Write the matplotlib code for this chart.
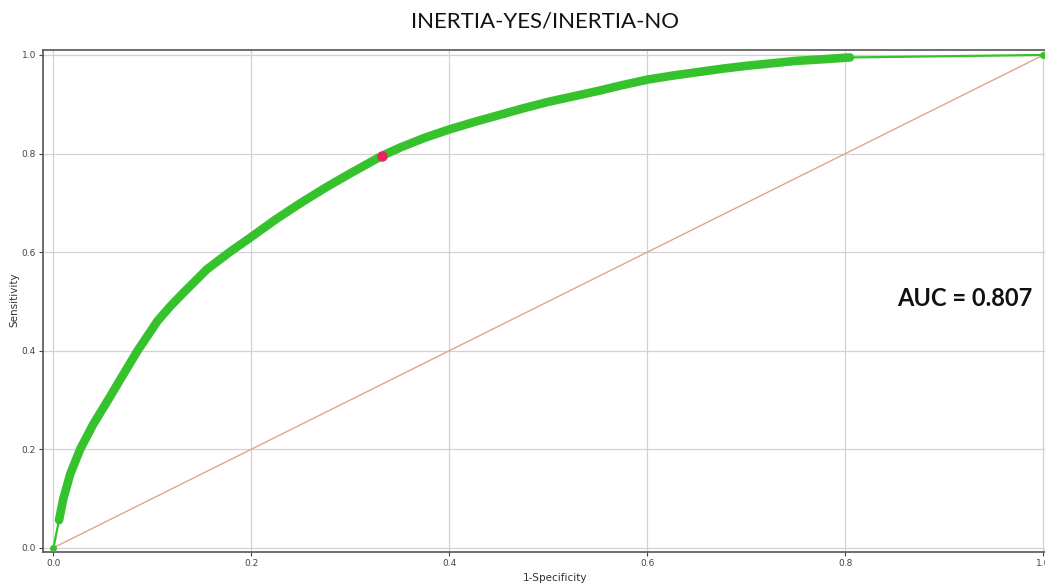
import matplotlib
matplotlib.use("Agg")
import matplotlib.pyplot as plt

# ROC curve points (1-specificity, sensitivity)
fpr = [0.0, 0.0056, 0.010, 0.017, 0.027, 0.040, 0.057, 0.067, 0.085, 0.105,
       0.118, 0.131, 0.155, 0.178, 0.200, 0.225, 0.250, 0.275, 0.300, 0.3315,
       0.350, 0.375, 0.400, 0.425, 0.450, 0.475, 0.500, 0.525, 0.550, 0.575,
       0.600, 0.625, 0.650, 0.675, 0.700, 0.725, 0.750, 0.775, 0.8045, 1.0]
tpr = [0.0, 0.056, 0.100, 0.150, 0.200, 0.250, 0.306, 0.340, 0.400, 0.460,
       0.490, 0.517, 0.565, 0.600, 0.631, 0.667, 0.700, 0.731, 0.760, 0.795,
       0.812, 0.832, 0.849, 0.864, 0.878, 0.892, 0.905, 0.916, 0.927, 0.939,
       0.950, 0.958, 0.965, 0.972, 0.978, 0.983, 0.988, 0.991, 0.995, 1.0]
thick_start, thick_end = 1, 38  # index range drawn as the dense thick band
cut_fpr, cut_tpr = [0.3315], [0.795]
diag = [0.0, 1.0]
ticks = [0.0, 0.2, 0.4, 0.6, 0.8, 1.0]
title = "INERTIA-YES/INERTIA-NO"
auc_text = "AUC = 0.807"

W, H = 1045, 585
fig = plt.figure(figsize=(W / 100, H / 100), dpi=100)
ax = fig.add_axes([43 / W, (H - 551.7) / H, 1010.4 / W, 501.7 / H])
ax.set_xlim(-0.0106, 1.0100)
ax.set_ylim(-0.0081, 1.0101)

ax.grid(True, color="#d2d2d2", linewidth=0.9)
ax.set_axisbelow(True)

green = "#35c22d"
ax.plot(diag, diag, color="#e0a58a", linewidth=1.0, zorder=2)
ax.plot(fpr, tpr, color=green, linewidth=1.6, zorder=3)
ax.plot(fpr[thick_start:thick_end + 1], tpr[thick_start:thick_end + 1],
        color=green, linewidth=6.2, solid_capstyle="round",
        solid_joinstyle="round", zorder=4)
ax.plot([fpr[0]], [tpr[0]], "o", color=green, markersize=4, zorder=4)
ax.plot([fpr[-1]], [tpr[-1]], "o", color=green, markersize=4, zorder=4)
ax.plot(cut_fpr, cut_tpr, "o", color="#e8245c", markersize=6.5, zorder=5)

ax.set_xticks(ticks)
ax.set_yticks(ticks)
ax.set_xticklabels([f"{t:.1f}" for t in ticks])
ax.set_yticklabels([f"{t:.1f}" for t in ticks])
ax.tick_params(labelsize=6.5, labelcolor="#444444", color="#444444",
               length=3, width=0.8, pad=2)
for s in ax.spines.values():
    s.set_color("#555555")
    s.set_linewidth(1.2)

fig.text(14 / W, 1 - 300 / H, "Sensitivity", rotation=90, ha="center",
         va="center", fontsize=7.5, color="#333333")
fig.text(555 / W, 1 - 578 / H, "1-Specificity", ha="center", va="center",
         fontsize=7.5, color="#333333")
fig.text(545 / W, 1 - 22 / H, title, ha="center", va="center",
         fontsize=16, family="Lato", color="#111111")
fig.text(965 / W, 1 - 298 / H, auc_text, ha="center", va="center",
         fontsize=17, family="Lato", fontweight="bold", color="#111111")

fig.savefig("out.png", dpi=100)
